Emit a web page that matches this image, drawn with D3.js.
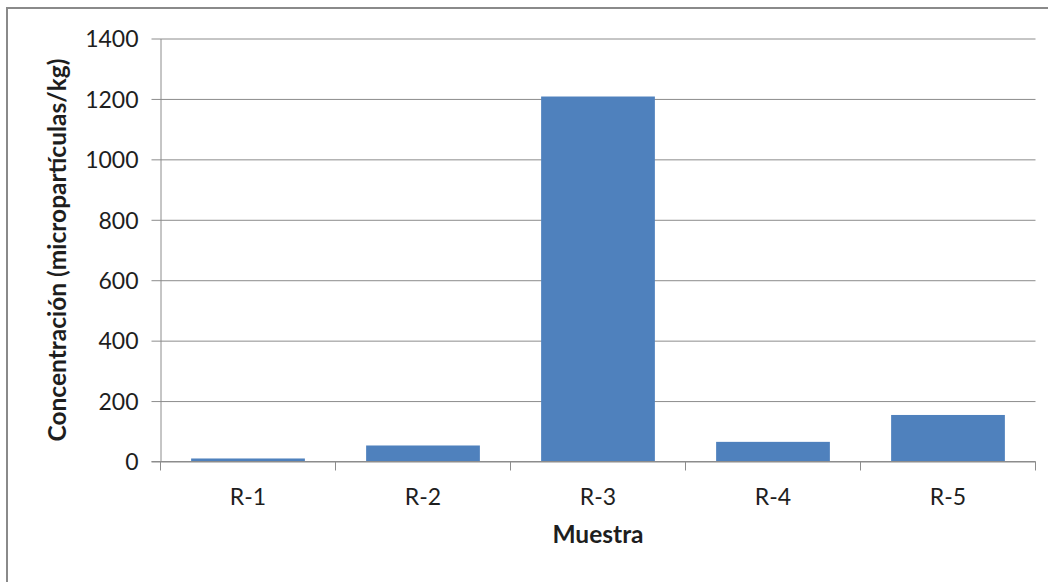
<!DOCTYPE html>
<html>
<head>
<meta charset="utf-8">
<script src="https://cdn.jsdelivr.net/npm/d3@7"></script>
<style>
  html, body { margin: 0; padding: 0; background: #fff; }
  svg { display: block; }
  text { font-family: Lato, "Open Sans", sans-serif; fill: #1e1e1e; }
</style>
</head>
<body>
<svg id="chart" width="1048" height="582"></svg>
<script>
// Microparticle concentration per sample
const samples = ["R-1", "R-2", "R-3", "R-4", "R-5"];
const concentration = [10, 53, 1208, 65, 154];
const yTicks = [0, 200, 400, 600, 800, 1000, 1200, 1400];
const yTitle = "Concentración (micropartículas/kg)";
const xTitle = "Muestra";

const svg = d3.select("#chart");
const W = 1048, H = 582;
const plot = { left: 160.5, right: 1035.5, top: 38.5, bottom: 461.5 };

// Outer chart frame
svg.append("rect")
  .attr("x", 7).attr("y", 8)
  .attr("width", W + 10).attr("height", H + 10)
  .attr("fill", "#fff")
  .attr("stroke", "#8a8a8a")
  .attr("stroke-width", 2);

const x = d3.scaleBand()
  .domain(samples)
  .range([plot.left, plot.right])
  .paddingInner(0.35)
  .paddingOuter(0.175);

const y = d3.scaleLinear()
  .domain([0, 1400])
  .range([plot.bottom, plot.top]);

// Horizontal gridlines, extending left as tick marks
const grid = svg.append("g")
  .attr("transform", `translate(${plot.right},0)`)
  .call(d3.axisLeft(y).tickValues(yTicks).tickSize(plot.right - plot.left + 9).tickFormat(""));
grid.select(".domain").remove();
grid.selectAll(".tick line").attr("stroke", "#8c8c8c").attr("stroke-width", 1);

// Y axis line and labels
const yAxis = svg.append("g")
  .attr("transform", `translate(${plot.left},0)`)
  .call(d3.axisLeft(y).tickValues(yTicks).tickSize(0).tickPadding(22).tickFormat(d3.format("d")));
yAxis.select(".domain").attr("stroke", "#8c8c8c").attr("stroke-width", 1);
yAxis.selectAll(".tick text")
  .style("font-size", "23px")
  .attr("fill", "#1e1e1e")
  .attr("dy", "0.36em");

// Bars
svg.append("g")
  .selectAll("rect")
  .data(samples.map((s, i) => ({ s, v: concentration[i] })))
  .join("rect")
  .attr("x", d => x(d.s))
  .attr("width", x.bandwidth())
  .attr("y", d => y(d.v))
  .attr("height", d => y(0) - y(d.v))
  .attr("fill", "#4f81bd");

// X axis with category boundary ticks
const step = x.step();
const bounds = d3.range(samples.length + 1).map(i => plot.left + i * step);
const xAxis = svg.append("g");
xAxis.append("line")
  .attr("x1", plot.left - 9).attr("x2", plot.right)
  .attr("y1", plot.bottom).attr("y2", plot.bottom)
  .attr("stroke", "#8c8c8c");
xAxis.selectAll("line.btick")
  .data(bounds)
  .join("line")
  .attr("class", "btick")
  .attr("x1", d => d).attr("x2", d => d)
  .attr("y1", plot.bottom).attr("y2", plot.bottom + 9)
  .attr("stroke", "#8c8c8c");
xAxis.selectAll("text")
  .data(samples)
  .join("text")
  .attr("x", d => x(d) + x.bandwidth() / 2)
  .attr("y", 505)
  .attr("text-anchor", "middle")
  .style("font-size", "23px")
  .text(d => d);

// Axis titles
svg.append("text")
  .attr("x", (plot.left + plot.right) / 2)
  .attr("y", 543)
  .attr("text-anchor", "middle")
  .style("font-size", "24.5px")
  .style("font-weight", "bold")
  .text(xTitle);

svg.append("text")
  .attr("transform", `translate(66,${(plot.top + plot.bottom) / 2}) rotate(-90)`)
  .attr("text-anchor", "middle")
  .style("font-size", "24.5px")
  .style("font-weight", "bold")
  .text(yTitle);
</script>
</body>
</html>
